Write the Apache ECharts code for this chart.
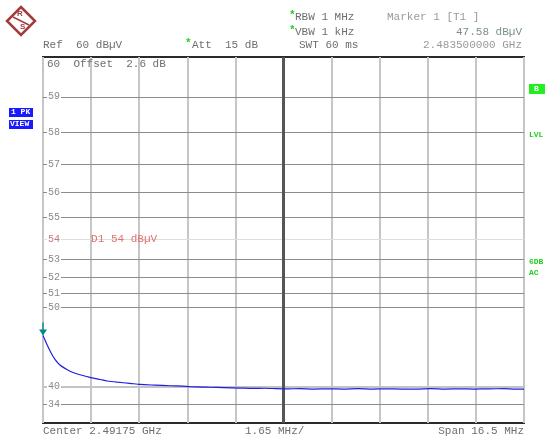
<!DOCTYPE html>
<html><head><meta charset="utf-8">
<script src="https://cdn.jsdelivr.net/npm/echarts@6/dist/echarts.min.js"></script>
<style>html,body{margin:0;padding:0;background:#fff}#c{width:545px;height:438px}</style>
</head><body><div id="c"></div>
<script>
// ---- data ----
const freqOffsetMHz = [0, 0.07, 0.14, 0.27, 0.41, 0.58, 0.82, 1.03, 1.27, 1.61, 1.96, 2.2, 2.54, 2.98, 3.33, 3.84, 4.36, 4.8, 5.04, 5.5, 5.73, 6.2, 6.76, 7.2, 7.6, 8.0, 8.4, 8.8, 9.3, 9.8, 10.3, 10.8, 11.3, 11.8, 12.3, 12.8, 13.3, 13.8, 14.3, 14.8, 15.3, 15.8, 16.2, 16.5];
const levelDbuV   = [47.58, 47.1, 46.6, 45.7, 44.8, 44.0, 43.3, 42.8, 42.4, 41.9, 41.5, 41.2, 40.95, 40.7, 40.45, 40.3, 40.15, 40.05, 39.95, 39.85, 39.8, 39.7, 39.6, 39.5, 39.55, 39.45, 39.4, 39.45, 39.35, 39.4, 39.35, 39.45, 39.35, 39.4, 39.35, 39.35, 39.45, 39.35, 39.4, 39.35, 39.4, 39.45, 39.35, 39.35];
const yTickDb = [34, 40, 50, 51, 52, 53, 54, 55, 56, 57, 58, 59];
const refLevelDb = 60;
const displayLineDb = 54;
const markerDb = 47.58;
const spanMHz = 16.5;
const divMHz = 1.65;

// ---- helpers ----
const toUV = db => Math.pow(10, db / 20);
const toDb = uv => 20 * Math.log10(uv);
const MONO = '"Liberation Mono","DejaVu Sans Mono",monospace';
const GREEN = '#22cc22';

const lineStyleFor = db => {
  if (db === 40) return {color: '#c4c4c4', width: 2, type: 'solid'};
  if (db === displayLineDb) return {color: '#dedede', width: 1, type: 'solid'};
  return {color: '#8c8c8c', width: 1, type: 'solid'};
};

const hLines = yTickDb.map(db => ({yAxis: toUV(db), lineStyle: lineStyleFor(db)}));

const chart = echarts.init(document.getElementById('c'), null, {renderer: 'canvas'});

function txt(text, left, top, color, extra) {
  return Object.assign({
    type: 'text', left: left, top: top, z: 20,
    style: Object.assign({text: text, font: '11px ' + MONO, fill: color || '#6e6e6e'}, extra && extra.style || {})
  }, extra && extra.pos || {});
}

chart.setOption({
  animation: false,
  backgroundColor: '#fff',
  grid: {left: 43, top: 57, width: 481, height: 366, show: true, borderColor: '#2a2a2a', borderWidth: 2, backgroundColor: 'transparent'},
  xAxis: {
    type: 'value', min: 0, max: spanMHz, interval: divMHz,
    axisLine: {show: false}, axisTick: {show: false}, axisLabel: {show: false},
    splitLine: {show: true, lineStyle: {color: '#c6c6c6', width: 2}}
  },
  yAxis: [{
    type: 'value', min: 0, max: toUV(refLevelDb),
    axisLine: {show: false}, axisTick: {show: false}, axisLabel: {show: false}, splitLine: {show: false}
  }, {
    type: 'value', min: 0, max: toUV(refLevelDb), position: 'left', z: 6,
    axisLine: {show: false}, axisTick: {show: false}, splitLine: {show: false},
    axisLabel: {
      inside: true, margin: 4, customValues: yTickDb.map(toUV),
      formatter: v => String(Math.round(toDb(v))),
      color: v => Math.abs(v - toUV(displayLineDb)) < 1 ? '#c07878' : '#8a8a8a',
      fontFamily: MONO, fontSize: 10, backgroundColor: '#fff', padding: [0, 1, 0, 1]
    }
  }],
  series: [{
    type: 'line', yAxisIndex: 0, z: 3,
    data: freqOffsetMHz.map((f, i) => [f, toUV(levelDbuV[i])]),
    showSymbol: false, symbol: 'none', smooth: 0.2,
    lineStyle: {color: '#1f1fe0', width: 1.2},
    markLine: {
      silent: true, symbol: 'none', z: 1, label: {show: false},
      data: hLines.concat([{xAxis: spanMHz / 2, lineStyle: {color: '#555', width: 3, type: 'solid'}}])
    },
    markPoint: {
      silent: true,
      data: [{
        coord: [freqOffsetMHz[0], toUV(markerDb)],
        symbol: 'path://M3.3,0 H4.7 V7 H8 L4,13 L0,7 H3.3 Z',
        symbolSize: [8, 13], symbolOffset: [0, '-50%'],
        itemStyle: {color: '#008c8c'}, label: {show: false}
      }, {
        coord: [divMHz, toUV(displayLineDb)],
        symbol: 'circle', symbolSize: 0,
        label: {show: true, position: 'right', distance: 0, formatter: 'D1 ' + displayLineDb + ' dBµV',
                color: '#e07070', fontFamily: MONO, fontSize: 11}
      }]
    }
  }],
  graphic: [
    // R&S logo
    {type: 'polygon', z: 20, shape: {points: [[21, 7], [35, 21], [21, 35], [7, 21]]},
     style: {fill: '#fff', stroke: '#a03c3c', lineWidth: 2.5}},
    {type: 'line', z: 21, shape: {x1: 13, y1: 17, x2: 29, y2: 25}, style: {stroke: '#a03c3c', lineWidth: 1.5}},
    {type: 'text', z: 22, x: 17, y: 10, style: {text: 'R', font: 'bold 8px sans-serif', fill: '#a03c3c'}},
    {type: 'text', z: 22, x: 20, y: 23, style: {text: 'S', font: 'bold 8px sans-serif', fill: '#a03c3c'}},
    // header
    txt('Ref  60 dBµV', 43, 40),
    {type: 'text', z: 20, left: 185, top: 38, style: {text: '*', font: 'bold 11px ' + MONO, fill: GREEN}},
    txt('Att  15 dB', 192, 40),
    {type: 'text', z: 20, left: 289, top: 10, style: {text: '*', font: 'bold 11px ' + MONO, fill: GREEN}},
    txt('RBW 1 MHz', 295, 12),
    {type: 'text', z: 20, left: 289, top: 25, style: {text: '*', font: 'bold 11px ' + MONO, fill: GREEN}},
    txt('VBW 1 kHz', 295, 27),
    txt('SWT 60 ms', 299, 40),
    txt('Marker 1 [T1 ]', 387, 12, '#9a9a9a'),
    txt('47.58 dBµV', null, 27, '#7a8e90', {pos: {right: 23}}),
    txt('2.483500000 GHz', null, 40, '#9a9a9a', {pos: {right: 23}}),
    txt('60  Offset  2.6 dB', 47, 59, '#6e6e6e', {style: {font: '11px ' + MONO}}),
    // footer
    txt('Center 2.49175 GHz', 43, 426),
    txt('1.65 MHz/', 245, 426),
    txt('Span 16.5 MHz', null, 426, '#6e6e6e', {pos: {right: 21}}),
    // left blue boxes
    {type: 'rect', z: 20, shape: {x: 9, y: 108, width: 24, height: 9}, style: {fill: '#1a1aff'}},
    {type: 'text', z: 21, left: 11, top: 108, style: {text: '1 PK', font: 'bold 8px ' + MONO, fill: '#fff'}},
    {type: 'rect', z: 20, shape: {x: 9, y: 120, width: 24, height: 9}, style: {fill: '#1a1aff'}},
    {type: 'text', z: 21, left: 10, top: 120, style: {text: 'VIEW', font: 'bold 8px ' + MONO, fill: '#fff'}},
    // right green annotations
    {type: 'rect', z: 20, shape: {x: 529, y: 84, width: 16, height: 10}, style: {fill: '#22ee22'}},
    {type: 'text', z: 21, left: 534, top: 85, style: {text: 'B', font: 'bold 8px ' + MONO, fill: '#fff'}},
    {type: 'text', z: 21, left: 529, top: 131, style: {text: 'LVL', font: 'bold 8px ' + MONO, fill: GREEN}},
    {type: 'text', z: 21, left: 529, top: 258, style: {text: '6DB', font: 'bold 8px ' + MONO, fill: GREEN}},
    {type: 'text', z: 21, left: 529, top: 269, style: {text: 'AC', font: 'bold 8px ' + MONO, fill: GREEN}}
  ]
});
</script>
</body></html>
